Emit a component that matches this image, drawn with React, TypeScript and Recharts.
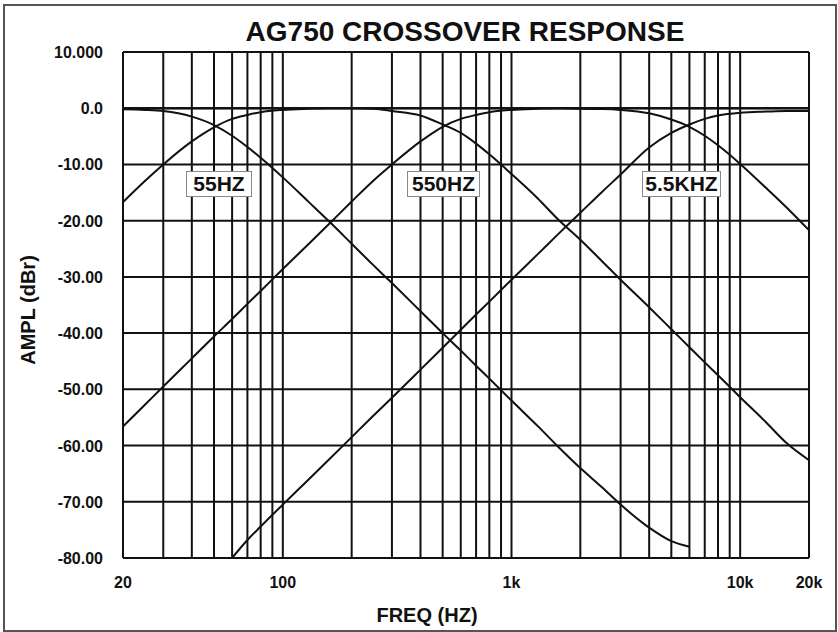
import { LineChart, Line, XAxis, YAxis, CartesianGrid } from 'recharts';

// frequency points (Hz) the curves were read at
const FREQS = [20, 25, 30, 40, 50, 60, 70, 80, 100, 130, 160, 200, 250, 300, 400, 500, 600, 700, 800, 1000, 1300, 1600, 2000, 2500, 3000, 4000, 5000, 6000, 7000, 8000, 10000, 13000, 16000, 20000];

// amplitude (dBr) of each filter section
const LP_55 = [-0.2, -0.3, -0.5, -1.5, -3.0, -4.9, -6.9, -8.8, -12.3, -16.7, -20.2, -24.1, -28.0, -31.1, -36.1, -40.0, -43.1, -45.8, -48.1, -52.0, -56.5, -60.2, -64.0, -67.5, -70.5, -74.6, -77.0, -78.0, null, null, null, null, null, null];
const HP_55 = [-16.7, -12.9, -10.0, -5.9, -3.4, -1.9, -1.2, -0.7, -0.3, -0.1, 0, 0, 0, 0, 0, 0, 0, 0, 0, 0, 0, 0, 0, 0, 0, 0, 0, 0, 0, 0, 0, 0, 0, 0];
const LP_550 = [0, 0, 0, 0, 0, 0, 0, 0, 0, 0, 0, 0, -0.1, -0.5, -1.3, -2.9, -4.4, -6.3, -8.2, -11.7, -16.0, -19.8, -23.4, -27.3, -30.5, -35.4, -39.3, -42.5, -45.2, -47.5, -51.4, -55.9, -59.6, -62.6];
const HP_550 = [-56.6, -52.7, -49.5, -44.5, -40.6, -37.5, -34.8, -32.5, -28.6, -24.1, -20.5, -16.6, -12.8, -10.0, -5.9, -3.3, -1.9, -1.2, -0.7, -0.3, -0.1, 0, 0, 0, 0, 0, 0, 0, 0, 0, 0, 0, 0, 0];
const LP_5K5 = [0, 0, 0, 0, 0, 0, 0, 0, 0, 0, 0, 0, 0, 0, 0, 0, 0, 0, 0, 0, 0, 0, -0.1, -0.15, -0.3, -0.9, -2.0, -3.3, -4.9, -6.6, -9.9, -14.2, -17.7, -21.7];
const HP_5K5 = [null, null, null, null, null, -80.0, -76.8, -74.4, -70.5, -66.0, -62.4, -58.5, -54.6, -51.5, -46.5, -42.6, -39.4, -36.7, -34.4, -30.5, -26.0, -22.4, -18.6, -14.8, -11.8, -7.0, -4.4, -2.9, -1.9, -1.3, -0.8, -0.6, -0.5, -0.5];

// grid / tick values
const X_GRID = [20, 30, 40, 50, 60, 70, 80, 90, 100, 200, 300, 400, 500, 600, 700, 800, 900, 1000, 2000, 3000, 4000, 5000, 6000, 7000, 8000, 9000, 10000, 20000];
const X_LABELS: Record<number, string> = { 20: '20', 100: '100', 1000: '1k', 10000: '10k', 20000: '20k' };
const Y_TICKS = [-80, -70, -60, -50, -40, -30, -20, -10, 0, 10];
const Y_LABELS: Record<number, string> = {
  10: '10.000', 0: '0.0', [-10]: '-10.00', [-20]: '-20.00', [-30]: '-30.00', [-40]: '-40.00',
  [-50]: '-50.00', [-60]: '-60.00', [-70]: '-70.00', [-80]: '-80.00',
};

const SERIES = [
  { key: 'lp55', values: LP_55 },
  { key: 'hp55', values: HP_55 },
  { key: 'lp550', values: LP_550 },
  { key: 'hp550', values: HP_550 },
  { key: 'lp5k5', values: LP_5K5 },
  { key: 'hp5k5', values: HP_5K5 },
];

const BADGES = [
  { text: '55HZ', left: 186, width: 66 },
  { text: '550HZ', left: 407, width: 73 },
  { text: '5.5KHZ', left: 642, width: 79 },
];

const data = FREQS.map((f, i) => {
  const row: Record<string, number | null> = { f };
  SERIES.forEach(s => { row[s.key] = s.values[i]; });
  return row;
});

const FONT = '"Liberation Sans", Arial, sans-serif';
const INK = '#111';

function XTick({ x, y, payload }: any) {
  const label = X_LABELS[payload.value];
  if (!label) return <g />;
  return (
    <text x={x} y={y + 30} textAnchor="middle" fontFamily={FONT} fontWeight="bold" fontSize={16} fill={INK}>
      {label}
    </text>
  );
}

function YTick({ x, y, payload }: any) {
  return (
    <text x={x - 20} y={y + 6} textAnchor="end" fontFamily={FONT} fontWeight="bold" fontSize={16} fill={INK}>
      {Y_LABELS[payload.value]}
    </text>
  );
}

export default function App() {
  return (
    <div style={{ position: 'absolute', left: 0, top: 0, width: 838, height: 632, background: '#fff', fontFamily: FONT }}>
      <div style={{ position: 'absolute', left: 3, top: 4, width: 834, height: 628, border: '2px solid #555', boxSizing: 'border-box' }} />
      <div style={{ position: 'absolute', left: 0, top: 18, width: 930, textAlign: 'center', fontSize: 28, lineHeight: '28px', fontWeight: 'bold', color: INK }}>
        AG750 CROSSOVER RESPONSE
      </div>

      <LineChart width={838} height={632} data={data} margin={{ top: 52, right: 29, bottom: 0, left: 0 }}>
        <CartesianGrid stroke={INK} strokeWidth={2} />
        <XAxis
          dataKey="f"
          type="number"
          scale="log"
          domain={[20, 20000]}
          ticks={X_GRID}
          interval={0}
          allowDataOverflow
          height={74}
          tickSize={0}
          tickMargin={0}
          tickLine={false}
          axisLine={{ stroke: INK, strokeWidth: 2 }}
          tick={<XTick />}
        />
        <YAxis
          type="number"
          domain={[-80, 10]}
          ticks={Y_TICKS}
          interval={0}
          allowDataOverflow
          width={123}
          tickSize={0}
          tickMargin={0}
          tickLine={false}
          axisLine={{ stroke: INK, strokeWidth: 2 }}
          tick={<YTick />}
        />
        {SERIES.map(s => (
          <Line
            key={s.key}
            dataKey={s.key}
            type="monotone"
            stroke={INK}
            strokeWidth={2}
            dot={false}
            isAnimationActive={false}
          />
        ))}
      </LineChart>

      {BADGES.map(b => (
        <div
          key={b.text}
          style={{
            position: 'absolute', left: b.left, top: 171, width: b.width, height: 26, boxSizing: 'border-box',
            border: '1px solid #888', background: '#fff', textAlign: 'center', fontSize: 21, lineHeight: '24px',
            fontWeight: 'bold', color: INK,
          }}
        >
          {b.text}
        </div>
      ))}

      <svg width={838} height={632} style={{ position: 'absolute', left: 0, top: 0, pointerEvents: 'none' }}>
        <text x={427} y={622} textAnchor="middle" fontFamily={FONT} fontWeight="bold" fontSize={20} fill={INK}>
          FREQ (HZ)
        </text>
        <text transform="translate(35,310) rotate(-90)" textAnchor="middle" fontFamily={FONT} fontWeight="bold" fontSize={20} fill={INK}>
          AMPL (dBr)
        </text>
      </svg>
    </div>
  );
}
